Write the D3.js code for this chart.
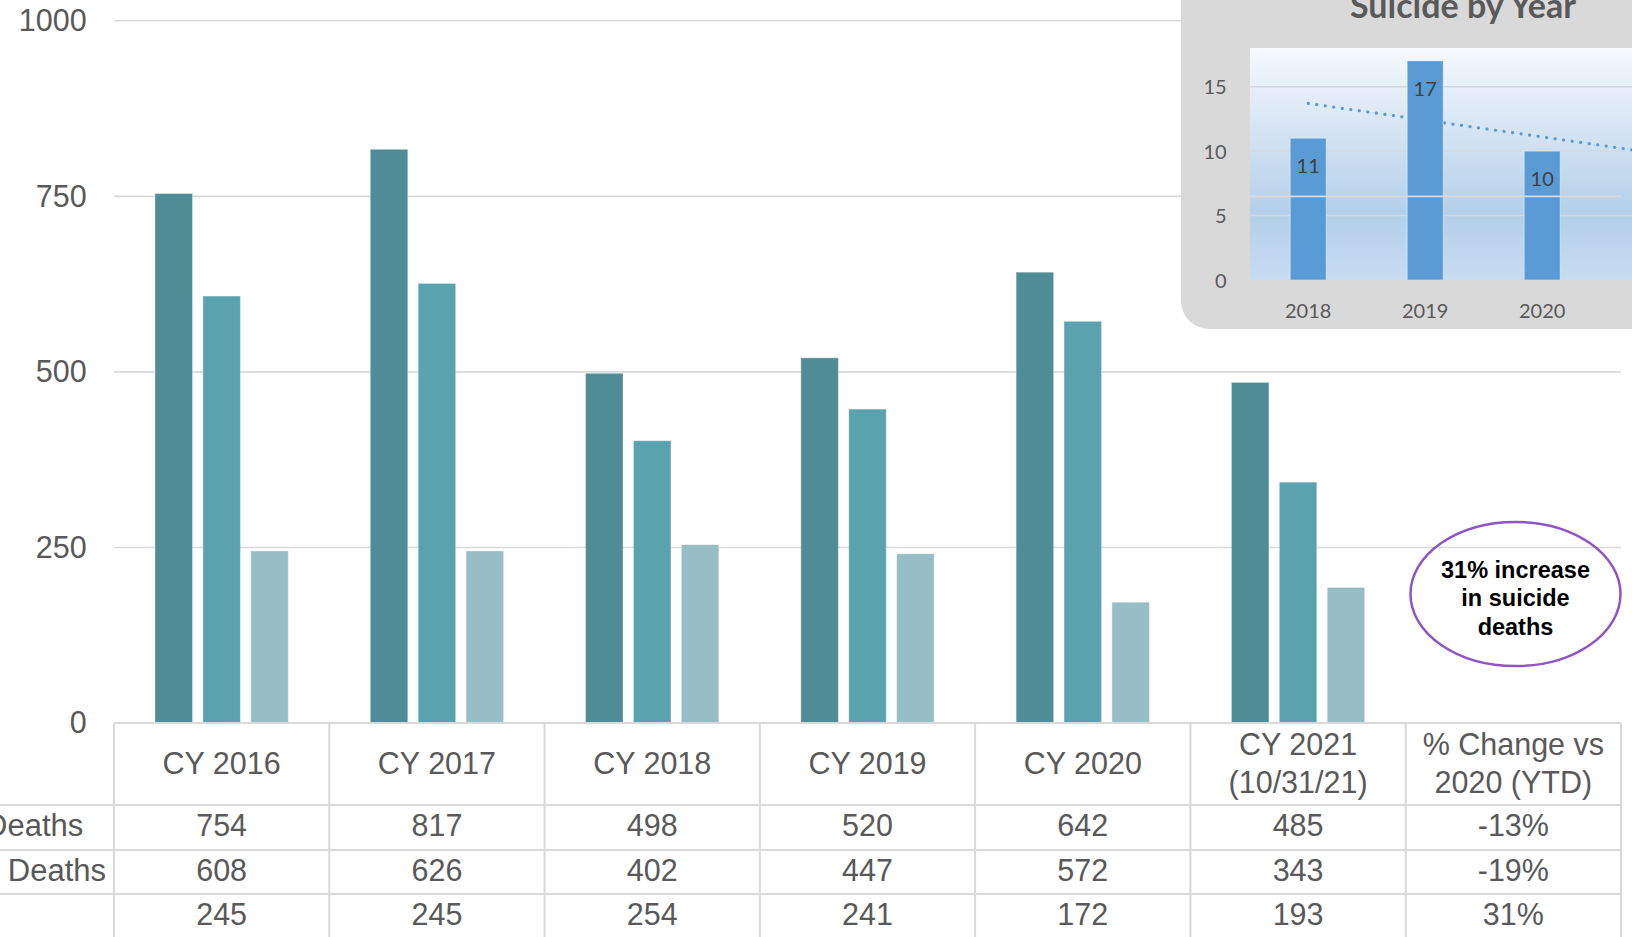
<!DOCTYPE html>
<html>
<head>
<meta charset="utf-8">
<script src="https://cdn.jsdelivr.net/npm/d3@7"></script>
<style>
  html, body { margin: 0; padding: 0; background: #ffffff; overflow: hidden; }
  svg { display: block; }
</style>
</head>
<body>
<svg id="chart" width="1632" height="937"></svg>
<script>
// ---------------- DATA ----------------
const categories = ["CY 2016", "CY 2017", "CY 2018", "CY 2019", "CY 2020", "CY 2021", "% Change"];
const columnHeaders = [["CY 2016"], ["CY 2017"], ["CY 2018"], ["CY 2019"], ["CY 2020"], ["CY 2021", "(10/31/21)"], ["% Change vs", "2020 (YTD)"]];
const seriesNames = ["s1", "s2", "s3"];
const series1 = [754, 817, 498, 520, 642, 485];
const series2 = [608, 626, 402, 447, 572, 343];
const series3 = [245, 245, 254, 241, 172, 193];
const pctChange = ["-13%", "-19%", "31%"];
const rowLabels = ["Deaths", "Deaths", ""];
const yTicks = [0, 250, 500, 750, 1000];

const insetYears = ["2018", "2019", "2020", "2021"];
const insetValues = [11, 17, 10, 9];
const insetTicks = [0, 5, 10, 15];
const insetTitle = "Suicide by Year";
const calloutLines = ["31% increase", "in suicide", "deaths"];

// ---------------- STYLE ----------------
const seriesColors = ["#4e8c96", "#5aa3ae", "#98bec5"];
const textColor = "#595959";
const gridColor = "#d9d9d9";
const mainFont = "'Liberation Sans', Arial, sans-serif";
const insetFont = "Lato, 'Open Sans', sans-serif";

const svg = d3.select("#chart");

// ---------------- MAIN CHART ----------------
const plotLeft = 114, plotRight = 1621;
const yTop = 20.8, yBottom = 723;
const y = d3.scaleLinear().domain([0, 1000]).range([yBottom, yTop]);
const x0 = d3.scaleBand().domain(categories).range([plotLeft, plotRight]).paddingInner(0).paddingOuter(0);
const x1 = d3.scaleBand().domain(seriesNames).range([0, x0.bandwidth()]).paddingInner(0.217).paddingOuter(0.856);

// gridlines
const gridG = svg.append("g");
gridG.selectAll("line").data(yTicks).join("line")
  .attr("x1", plotLeft).attr("x2", plotRight)
  .attr("y1", d => y(d)).attr("y2", d => y(d))
  .attr("stroke", gridColor).attr("stroke-width", 1.6);

// y axis labels
const yAxis = d3.axisLeft(y).tickValues(yTicks).tickSize(0).tickPadding(0).tickFormat(d3.format("d"));
const yAxisG = svg.append("g").attr("transform", "translate(86.7,0)").call(yAxis);
yAxisG.select(".domain").remove();
yAxisG.selectAll("text").attr("font-family", mainFont).attr("font-size", 30.5).attr("fill", textColor).attr("dy", "0.32em");

// bars
const seriesData = [series1, series2, series3];
const barG = svg.append("g");
seriesData.forEach((vals, si) => {
  barG.append("g").selectAll("rect").data(vals).join("rect")
    .attr("x", (d, i) => x0(categories[i]) + x1(seriesNames[si]))
    .attr("width", x1.bandwidth())
    .attr("y", d => y(d))
    .attr("height", d => y(0) - y(d))
    .attr("fill", seriesColors[si])
    .attr("stroke", "rgba(255,255,255,0.35)")
    .attr("stroke-width", 1);
});

// ---------------- DATA TABLE ----------------
const tableTop = 723, headerBottom = 805;
const rowLines = [805, 850, 894, 939];
const tableG = svg.append("g");
const lineAttrs = sel => sel.attr("stroke", gridColor).attr("stroke-width", 2);
tableG.append("line").attr("x1", plotLeft).attr("x2", plotRight).attr("y1", tableTop).attr("y2", tableTop).call(lineAttrs);
tableG.selectAll("line.row").data(rowLines.slice(0, 3)).join("line").attr("class", "row")
  .attr("x1", 0).attr("x2", plotRight).attr("y1", d => d).attr("y2", d => d).call(lineAttrs);
const vBounds = categories.map(c => x0(c)).concat([plotRight]);
tableG.selectAll("line.col").data(vBounds).join("line").attr("class", "col")
  .attr("x1", d => d).attr("x2", d => d).attr("y1", tableTop).attr("y2", 937).call(lineAttrs);

const tfs = 30.5;
// headers
columnHeaders.forEach((lines, i) => {
  const cx = x0(categories[i]) + x0.bandwidth() / 2;
  const cy = (tableTop + headerBottom) / 2 - 1;
  const lh = 38.5;
  lines.forEach((t, k) => {
    const ly = cy + (k - (lines.length - 1) / 2) * lh;
    tableG.append("text").attr("x", cx).attr("y", ly + 0.36 * tfs)
      .attr("text-anchor", "middle").attr("font-family", mainFont).attr("font-size", tfs)
      .attr("fill", textColor).text(t);
  });
});
// cell values
const tableRows = [series1, series2, series3];
tableRows.forEach((vals, r) => {
  const cy = (rowLines[r] + rowLines[r + 1]) / 2 - 2;
  const cells = vals.map(v => String(v)).concat([pctChange[r]]);
  cells.forEach((t, i) => {
    const cx = x0(categories[i]) + x0.bandwidth() / 2;
    tableG.append("text").attr("x", cx).attr("y", cy + 0.36 * tfs)
      .attr("text-anchor", "middle").attr("font-family", mainFont).attr("font-size", tfs)
      .attr("fill", textColor).text(t);
  });
});
// row labels (clipped at the left edge, as in the source)
const rowLabelEnds = [83.3, 106];
rowLabels.forEach((t, r) => {
  if (!t) return;
  const cy = (rowLines[r] + rowLines[r + 1]) / 2 - 2;
  tableG.append("text").attr("x", rowLabelEnds[r]).attr("y", cy + 0.36 * tfs)
    .attr("text-anchor", "end").attr("font-family", mainFont).attr("font-size", 31)
    .attr("fill", textColor).text(t);
});

// ---------------- INSET CHART ----------------
const inset = svg.append("g");
inset.append("rect").attr("x", 1181).attr("y", -40).attr("width", 520).attr("height", 369)
  .attr("rx", 28).attr("ry", 28).attr("fill", "#d9d9d9");

inset.append("text").attr("x", 1463).attr("y", 17.5).attr("text-anchor", "middle")
  .attr("font-family", insetFont).attr("font-weight", 700).attr("font-size", 34)
  .attr("fill", textColor).text(insetTitle);

const ipLeft = 1249.7, ipTop = 48, ipBottom = 280;
const ix = d3.scaleBand().domain(insetYears).range([ipLeft, ipLeft + 4 * 117]).paddingInner(0.692).paddingOuter(0.346);
const iy = d3.scaleLinear().domain([0, 18]).range([ipBottom, ipTop]);

const defs = svg.append("defs");
const grad = defs.append("linearGradient").attr("id", "insetGrad").attr("x1", 0).attr("y1", 0).attr("x2", 0).attr("y2", 1);
grad.append("stop").attr("offset", "0%").attr("stop-color", "#f6f9fd");
grad.append("stop").attr("offset", "72%").attr("stop-color", "#b4cfe9");
grad.append("stop").attr("offset", "100%").attr("stop-color", "#c8dcf1");
defs.append("clipPath").attr("id", "insetClip").append("rect")
  .attr("x", ipLeft).attr("y", ipTop).attr("width", 1632 - ipLeft).attr("height", ipBottom - ipTop);

const ip = inset.append("g").attr("clip-path", "url(#insetClip)");
ip.append("rect").attr("x", ipLeft).attr("y", ipTop).attr("width", 500).attr("height", ipBottom - ipTop)
  .attr("fill", "url(#insetGrad)");
ip.selectAll("line.ig").data(insetTicks.filter(d => d > 0)).join("line").attr("class", "ig")
  .attr("x1", ipLeft).attr("x2", 1632).attr("y1", d => iy(d)).attr("y2", d => iy(d))
  .attr("stroke", "#d4d8dc").attr("stroke-width", 1.5);

// trendline (least squares over the inset data)
const n = insetValues.length;
const xs = insetValues.map((d, i) => i + 1);
const mx = d3.mean(xs), my = d3.mean(insetValues);
const slope = d3.sum(xs.map((xv, i) => (xv - mx) * (insetValues[i] - my))) / d3.sum(xs.map(xv => (xv - mx) ** 2));
const icpt = my - slope * mx;
const xc = d => ix(d) + ix.bandwidth() / 2;
ip.append("line")
  .attr("x1", xc(insetYears[0])).attr("y1", iy(icpt + slope * 1))
  .attr("x2", xc(insetYears[n - 1])).attr("y2", iy(icpt + slope * n))
  .attr("stroke", "#5b9bd5").attr("stroke-width", 3.2).attr("stroke-linecap", "round")
  .attr("stroke-dasharray", "0.1 8.5");

// only the bars/labels that fall in view
const visibleIdx = insetValues.map((d, i) => i).filter(i => xc(insetYears[i]) < 1632);
ip.selectAll("rect.ib").data(insetValues).join("rect").attr("class", "ib")
  .attr("x", (d, i) => ix(insetYears[i])).attr("width", ix.bandwidth())
  .attr("y", d => iy(d)).attr("height", d => iy(0) - iy(d))
  .attr("fill", "#5b9bd5").attr("stroke", "rgba(255,255,255,0.45)").attr("stroke-width", 1);

ip.selectAll("text.il").data(visibleIdx).join("text").attr("class", "il")
  .attr("x", i => xc(insetYears[i])).attr("y", i => iy(insetValues[i]) + 35)
  .attr("text-anchor", "middle").attr("font-family", insetFont).attr("font-size", 20)
  .attr("fill", "#404040").text(i => insetValues[i]);

// main chart gridline showing through the inset plot area
ip.selectAll("line.mg").data(yTicks).join("line").attr("class", "mg")
  .attr("x1", ipLeft).attr("x2", plotRight).attr("y1", d => y(d)).attr("y2", d => y(d))
  .attr("stroke", "#d9d9d9").attr("stroke-width", 1.6);

// inset axes
const iyAxis = d3.axisLeft(iy).tickValues(insetTicks).tickSize(0).tickPadding(0);
const iyG = inset.append("g").attr("transform", "translate(1226.7,0)").call(iyAxis);
iyG.select(".domain").remove();
iyG.selectAll("text").attr("font-family", insetFont).attr("font-size", 20).attr("fill", textColor).attr("dy", "0.36em");

const ixAxis = d3.axisBottom(ix).tickValues(visibleIdx.map(i => insetYears[i])).tickSize(0).tickPadding(0);
const ixG = inset.append("g").attr("transform", "translate(0,310.7)").call(ixAxis);
ixG.select(".domain").remove();
ixG.selectAll("text").attr("font-family", insetFont).attr("font-size", 20).attr("fill", textColor).attr("dy", "0.36em");

// ---------------- CALLOUT ----------------
const callout = svg.append("g");
callout.append("ellipse").attr("cx", 1515.5).attr("cy", 594).attr("rx", 105).attr("ry", 72)
  .attr("fill", "none").attr("stroke", "#8e55c6").attr("stroke-width", 2.5);
calloutLines.forEach((t, k) => {
  callout.append("text").attr("x", 1515.5).attr("y", 569.5 + k * 28.6 + 8)
    .attr("text-anchor", "middle").attr("font-family", mainFont).attr("font-weight", 700)
    .attr("font-size", 23.5).attr("fill", "#000").text(t);
});
</script>
</body>
</html>
